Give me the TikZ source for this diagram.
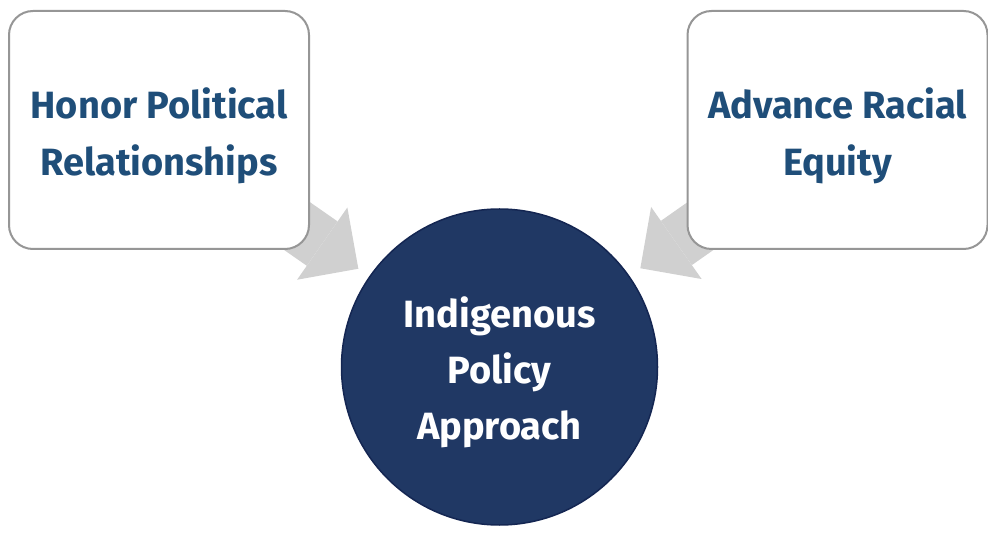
\documentclass[tikz,border=0pt]{standalone}
\usepackage{fontspec}
\setmainfont{Fira Sans}
\usetikzlibrary{arrows.meta,backgrounds,calc}
\definecolor{txtblue}{RGB}{31,78,121}
\definecolor{navy}{RGB}{32,56,100}
\definecolor{navyline}{RGB}{20,38,82}
\definecolor{boxline}{RGB}{150,150,150}
\definecolor{arrowgray}{RGB}{208,208,208}
\begin{document}
\begin{tikzpicture}[x=1pt,y=1pt,
  box/.style={draw=boxline, line width=2pt, fill=white, rounded corners=24pt,
    minimum width=300pt, minimum height=238pt},
  boxtext/.style={align=center, yshift=-6pt,
    font=\fontsize{38}{57}\selectfont\bfseries, text=txtblue},
  hub/.style={circle, fill=navy, draw=navyline, line width=1.5pt,
    minimum size=316pt, inner sep=0pt},
  hubtext/.style={align=center, yshift=-5pt,
    font=\fontsize{38}{56}\selectfont\bfseries, text=white},
  bigarrow/.style={draw=arrowgray, line width=54pt,
    -{Triangle[length=44pt,width=88pt,line width=0pt]}}]
\useasboundingbox (0,0) rectangle (988,533);
\node[box, label={[boxtext]center:Honor Political\\Relationships}] (l) at (159,403) {};
\node[box, label={[boxtext]center:Advance Racial\\Equity}] (r) at (837.5,403) {};
\node[hub, label={[hubtext]center:Indigenous\\Policy\\Approach}] (c) at (499.5,166) {};
\begin{scope}[on background layer]
\draw[bigarrow] (l.center) -- ($(c.center)!172pt!(l.center)$);
\draw[bigarrow] (r.center) -- ($(c.center)!172pt!(r.center)$);
\end{scope}
\end{tikzpicture}
\end{document}
